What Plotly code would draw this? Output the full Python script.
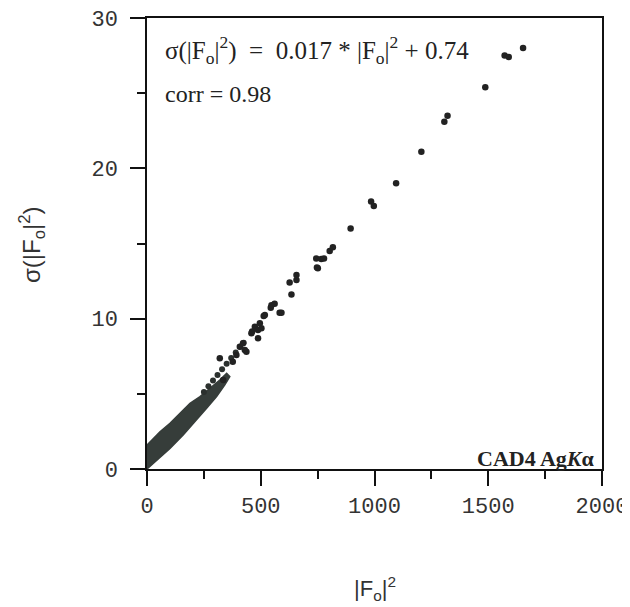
import plotly.graph_objects as go

# Dense band outline (|Fo|^2, sigma)
band_x = [0, 28, 57, 101, 145, 189, 233, 276, 320, 350, 364, 342, 306, 262, 218, 159, 101, 42, 0]
band_y = [1.6, 2.04, 2.48, 3.04, 3.71, 4.37, 4.82, 5.37, 5.92, 6.37, 6.15, 5.6, 4.82, 4.04, 3.26, 2.26, 1.37, 0.6, 0.0]

# Chain of overlapping points continuing the band
chain_x = [250, 270, 290, 310, 330, 350, 370, 390, 410, 425]
chain_y = [5.13, 5.5, 5.88, 6.25, 6.63, 7.0, 7.38, 7.75, 8.13, 8.4]

# Individual reflections
pts_x = [320, 335, 377, 393, 408, 430, 437, 422, 459, 462, 474, 488, 488, 496, 503, 513, 518,
         544, 547, 561, 583, 591, 635, 627, 657, 657, 744, 766, 778, 751, 747, 803, 817, 895,
         985, 997, 1095, 1206, 1307, 1321, 1487, 1572, 1590, 1653]
pts_y = [7.37, 5.92, 7.14, 7.58, 8.14, 7.92, 7.8, 8.36, 9.03, 9.14, 9.47, 8.7, 9.25, 9.7, 9.36, 10.18, 10.25,
         10.73, 10.9, 11.0, 10.4, 10.4, 11.6, 12.4, 12.57, 12.9, 14.0, 13.97, 14.0, 13.35, 13.4, 14.5, 14.75, 16.0,
         17.8, 17.5, 19.0, 21.1, 23.1, 23.5, 25.4, 27.5, 27.4, 28.0]

x_ticks = [0, 500, 1000, 1500, 2000]
y_ticks = [0, 10, 20, 30]

fig = go.Figure()
fig.add_trace(go.Scatter(x=band_x, y=band_y, mode="lines", fill="toself",
                         fillcolor="#363d3a", line=dict(color="#363d3a", width=1.5),
                         hoverinfo="skip", showlegend=False))
fig.add_trace(go.Scatter(x=chain_x, y=chain_y, mode="markers",
                         marker=dict(size=6, color="#2b302e"), showlegend=False))
fig.add_trace(go.Scatter(x=pts_x, y=pts_y, mode="markers",
                         marker=dict(size=6.5, color="#222222"), showlegend=False))

axis_common = dict(showgrid=False, zeroline=False, showline=True, linecolor="#111",
                   linewidth=1.5, mirror=True, ticks="outside", ticklen=15, tickwidth=1.5,
                   tickcolor="#111", automargin=False, ticklabeloverflow="allow",
                   tickfont=dict(family="Liberation Mono", size=22, color="#333"))

fig.update_xaxes(range=[0, 2000], tickvals=x_ticks, ticktext=[str(v) for v in x_ticks],
                 ticklabelstandoff=1,
                 minor=dict(ticks="outside", ticklen=8, tickwidth=1.5, tickcolor="#111",
                            tickvals=[250, 750, 1250, 1750]),
                 **axis_common)
fig.update_yaxes(range=[0, 30], tickvals=y_ticks, ticktext=[str(v) for v in y_ticks],
                 ticklabelstandoff=8,
                 minor=dict(ticks="outside", ticklen=8, tickwidth=1.5, tickcolor="#111",
                            tickvals=[5, 15, 25]),
                 **axis_common)

serif = "Liberation Serif"
fig.add_annotation(x=70, y=27.9, xref="x", yref="y", xanchor="left", yanchor="middle",
                   text="σ(|F<sub>o</sub>|<sup>2</sup>)  =  0.017 * |F<sub>o</sub>|<sup>2</sup> + 0.74",
                   showarrow=False, font=dict(family=serif, size=25, color="#222"))
fig.add_annotation(x=70, y=24.95, xref="x", yref="y", xanchor="left", yanchor="middle",
                   text="corr = 0.98", showarrow=False,
                   font=dict(family=serif, size=24, color="#222"))
fig.add_annotation(x=1978, y=0.73, xref="x", yref="y", xanchor="right", yanchor="middle",
                   text="<b>CAD4 Ag<i>K</i>α</b>", showarrow=False,
                   font=dict(family=serif, size=22, color="#222"))

# axis titles
fig.add_annotation(x=(375 - 147) / 455, y=(469 - 588) / 451, xref="paper", yref="paper",
                   xanchor="center", yanchor="middle", text="|F<sub>o</sub>|<sup>2</sup>",
                   showarrow=False, font=dict(family="Liberation Sans", size=22, color="#333"))
fig.add_annotation(x=(32 - 147) / 455, y=(469 - 245) / 451, xref="paper", yref="paper",
                   xanchor="center", yanchor="middle", textangle=-90,
                   text="σ(|F<sub>o</sub>|<sup>2</sup>)",
                   showarrow=False, font=dict(family="Liberation Sans", size=24, color="#333"))

# page body adds an 8px offset, so the figure is 8px smaller on each axis
fig.update_layout(width=622, height=599, margin=dict(l=139, r=28, t=10, b=138),
                  plot_bgcolor="white", paper_bgcolor="white")

fig.write_html("out.html")
